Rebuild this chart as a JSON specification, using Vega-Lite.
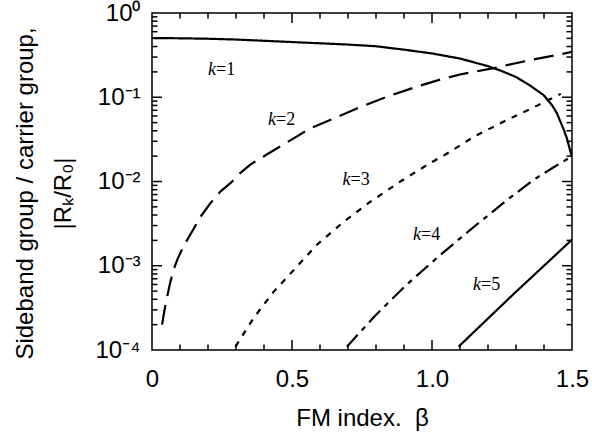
{
  "$schema": "https://vega.github.io/schema/vega-lite/v6.json",
  "width": 420,
  "height": 337,
  "autosize": {"type": "none"},
  "padding": {"left": 152, "top": 13, "right": 20, "bottom": 85},
  "background": "white",
  "config": {
    "view": {"stroke": "black", "strokeWidth": 1.5},
    "axis": {
      "domain": false, "ticks": false,
      "labelFont": "Liberation Sans", "labelFontSize": 24, "labelColor": "black",
      "titleFont": "Liberation Sans", "titleFontSize": 24, "titleFontWeight": "normal", "titleColor": "black",
      "grid": false, "labelOverlap": false, "labelFlush": false, "labelBound": false
    }
  },
  "datasets": {
    "curves": [
      {"k": "1", "beta": 0, "value": 0.505},
      {"k": "1", "beta": 0.1, "value": 0.501},
      {"k": "1", "beta": 0.2, "value": 0.495},
      {"k": "1", "beta": 0.3, "value": 0.484},
      {"k": "1", "beta": 0.4, "value": 0.468},
      {"k": "1", "beta": 0.5, "value": 0.452},
      {"k": "1", "beta": 0.6, "value": 0.437},
      {"k": "1", "beta": 0.7, "value": 0.422},
      {"k": "1", "beta": 0.8, "value": 0.403},
      {"k": "1", "beta": 0.9, "value": 0.367},
      {"k": "1", "beta": 1.0, "value": 0.331},
      {"k": "1", "beta": 1.1, "value": 0.288},
      {"k": "1", "beta": 1.2, "value": 0.234},
      {"k": "1", "beta": 1.25, "value": 0.204},
      {"k": "1", "beta": 1.3, "value": 0.174},
      {"k": "1", "beta": 1.35, "value": 0.138},
      {"k": "1", "beta": 1.4, "value": 0.105},
      {"k": "1", "beta": 1.43, "value": 0.0794},
      {"k": "1", "beta": 1.446, "value": 0.0646},
      {"k": "1", "beta": 1.46, "value": 0.0501},
      {"k": "1", "beta": 1.47, "value": 0.0417},
      {"k": "1", "beta": 1.482, "value": 0.0324},
      {"k": "1", "beta": 1.49, "value": 0.0257},
      {"k": "1", "beta": 1.5, "value": 0.0195},
      {"k": "2", "beta": 0.036, "value": 0.0002},
      {"k": "2", "beta": 0.045, "value": 0.000302},
      {"k": "2", "beta": 0.054, "value": 0.000427},
      {"k": "2", "beta": 0.065, "value": 0.000631},
      {"k": "2", "beta": 0.077, "value": 0.000891},
      {"k": "2", "beta": 0.09, "value": 0.001175},
      {"k": "2", "beta": 0.101, "value": 0.001413},
      {"k": "2", "beta": 0.119, "value": 0.001862},
      {"k": "2", "beta": 0.149, "value": 0.002754},
      {"k": "2", "beta": 0.173, "value": 0.003802},
      {"k": "2", "beta": 0.208, "value": 0.005495},
      {"k": "2", "beta": 0.244, "value": 0.007586},
      {"k": "2", "beta": 0.28, "value": 0.00955},
      {"k": "2", "beta": 0.315, "value": 0.012589},
      {"k": "2", "beta": 0.351, "value": 0.015849},
      {"k": "2", "beta": 0.417, "value": 0.021627},
      {"k": "2", "beta": 0.5, "value": 0.031623},
      {"k": "2", "beta": 0.565, "value": 0.042658},
      {"k": "2", "beta": 0.65, "value": 0.056234},
      {"k": "2", "beta": 0.756, "value": 0.079433},
      {"k": "2", "beta": 0.85, "value": 0.104713},
      {"k": "2", "beta": 0.95, "value": 0.134896},
      {"k": "2", "beta": 1.03, "value": 0.162181},
      {"k": "2", "beta": 1.1, "value": 0.186209},
      {"k": "2", "beta": 1.22, "value": 0.221309},
      {"k": "2", "beta": 1.27, "value": 0.241546},
      {"k": "2", "beta": 1.35, "value": 0.275423},
      {"k": "2", "beta": 1.458, "value": 0.323594},
      {"k": "2", "beta": 1.5, "value": 0.346737},
      {"k": "3", "beta": 0.298, "value": 0.0001096},
      {"k": "3", "beta": 0.363, "value": 0.0002399},
      {"k": "3", "beta": 0.434, "value": 0.0004898},
      {"k": "3", "beta": 0.512, "value": 0.0009333},
      {"k": "3", "beta": 0.589, "value": 0.0017783},
      {"k": "3", "beta": 0.684, "value": 0.0033113},
      {"k": "3", "beta": 0.78, "value": 0.0057544},
      {"k": "3", "beta": 0.887, "value": 0.01},
      {"k": "3", "beta": 0.994, "value": 0.016596},
      {"k": "3", "beta": 1.048, "value": 0.020893},
      {"k": "3", "beta": 1.149, "value": 0.033884},
      {"k": "3", "beta": 1.196, "value": 0.040738},
      {"k": "3", "beta": 1.28, "value": 0.056234},
      {"k": "3", "beta": 1.363, "value": 0.075858},
      {"k": "3", "beta": 1.46, "value": 0.109648},
      {"k": "4", "beta": 0.696, "value": 0.0001096},
      {"k": "4", "beta": 0.795, "value": 0.000251},
      {"k": "4", "beta": 0.911, "value": 0.000603},
      {"k": "4", "beta": 1.03, "value": 0.001349},
      {"k": "4", "beta": 1.149, "value": 0.002884},
      {"k": "4", "beta": 1.268, "value": 0.006026},
      {"k": "4", "beta": 1.363, "value": 0.010471},
      {"k": "4", "beta": 1.43, "value": 0.014454},
      {"k": "4", "beta": 1.5, "value": 0.019953},
      {"k": "5", "beta": 1.095, "value": 0.0001096},
      {"k": "5", "beta": 1.29, "value": 0.000457},
      {"k": "5", "beta": 1.5, "value": 0.002042}
    ],
    "labels": [
      {"beta": 0.229, "value": 0.2107, "sym": "k", "rest": "=1"},
      {"beta": 0.443, "value": 0.0537, "sym": "k", "rest": "=2"},
      {"beta": 0.709, "value": 0.01047, "sym": "k", "rest": "=3"},
      {"beta": 0.961, "value": 0.002317, "sym": "k", "rest": "=4"},
      {"beta": 1.175, "value": 0.000591, "sym": "k", "rest": "=5"}
    ],
    "xticks": [
      {"beta": 0.1, "value": 0.0001, "kind": "minor"}, {"beta": 0.2, "value": 0.0001, "kind": "minor"},
      {"beta": 0.3, "value": 0.0001, "kind": "minor"}, {"beta": 0.4, "value": 0.0001, "kind": "minor"},
      {"beta": 0.5, "value": 0.0001, "kind": "major"}, {"beta": 0.6, "value": 0.0001, "kind": "minor"},
      {"beta": 0.7, "value": 0.0001, "kind": "minor"}, {"beta": 0.8, "value": 0.0001, "kind": "minor"},
      {"beta": 0.9, "value": 0.0001, "kind": "minor"}, {"beta": 1.0, "value": 0.0001, "kind": "major"},
      {"beta": 1.1, "value": 0.0001, "kind": "minor"}, {"beta": 1.2, "value": 0.0001, "kind": "minor"},
      {"beta": 1.3, "value": 0.0001, "kind": "minor"}, {"beta": 1.4, "value": 0.0001, "kind": "minor"},
      {"beta": 0.1, "value": 1, "kind": "minor"}, {"beta": 0.2, "value": 1, "kind": "minor"},
      {"beta": 0.3, "value": 1, "kind": "minor"}, {"beta": 0.4, "value": 1, "kind": "minor"},
      {"beta": 0.5, "value": 1, "kind": "major"}, {"beta": 0.6, "value": 1, "kind": "minor"},
      {"beta": 0.7, "value": 1, "kind": "minor"}, {"beta": 0.8, "value": 1, "kind": "minor"},
      {"beta": 0.9, "value": 1, "kind": "minor"}, {"beta": 1.0, "value": 1, "kind": "major"},
      {"beta": 1.1, "value": 1, "kind": "minor"}, {"beta": 1.2, "value": 1, "kind": "minor"},
      {"beta": 1.3, "value": 1, "kind": "minor"}, {"beta": 1.4, "value": 1, "kind": "minor"}
    ],
    "yticks": [
      {"beta": 0, "value": 0.0002, "kind": "minor"}, {"beta": 0, "value": 0.0003, "kind": "minor"},
      {"beta": 0, "value": 0.0004, "kind": "minor"}, {"beta": 0, "value": 0.0005, "kind": "minor"},
      {"beta": 0, "value": 0.0006, "kind": "minor"}, {"beta": 0, "value": 0.0007, "kind": "minor"},
      {"beta": 0, "value": 0.0008, "kind": "minor"}, {"beta": 0, "value": 0.0009, "kind": "minor"},
      {"beta": 0, "value": 0.001, "kind": "major"},
      {"beta": 0, "value": 0.002, "kind": "minor"}, {"beta": 0, "value": 0.003, "kind": "minor"},
      {"beta": 0, "value": 0.004, "kind": "minor"}, {"beta": 0, "value": 0.005, "kind": "minor"},
      {"beta": 0, "value": 0.006, "kind": "minor"}, {"beta": 0, "value": 0.007, "kind": "minor"},
      {"beta": 0, "value": 0.008, "kind": "minor"}, {"beta": 0, "value": 0.009, "kind": "minor"},
      {"beta": 0, "value": 0.01, "kind": "major"},
      {"beta": 0, "value": 0.02, "kind": "minor"}, {"beta": 0, "value": 0.03, "kind": "minor"},
      {"beta": 0, "value": 0.04, "kind": "minor"}, {"beta": 0, "value": 0.05, "kind": "minor"},
      {"beta": 0, "value": 0.06, "kind": "minor"}, {"beta": 0, "value": 0.07, "kind": "minor"},
      {"beta": 0, "value": 0.08, "kind": "minor"}, {"beta": 0, "value": 0.09, "kind": "minor"},
      {"beta": 0, "value": 0.1, "kind": "major"},
      {"beta": 0, "value": 0.2, "kind": "minor"}, {"beta": 0, "value": 0.3, "kind": "minor"},
      {"beta": 0, "value": 0.4, "kind": "minor"}, {"beta": 0, "value": 0.5, "kind": "minor"},
      {"beta": 0, "value": 0.6, "kind": "minor"}, {"beta": 0, "value": 0.7, "kind": "minor"},
      {"beta": 0, "value": 0.8, "kind": "minor"}, {"beta": 0, "value": 0.9, "kind": "minor"},
      {"beta": 1.5, "value": 0.0002, "kind": "minor"}, {"beta": 1.5, "value": 0.0003, "kind": "minor"},
      {"beta": 1.5, "value": 0.0004, "kind": "minor"}, {"beta": 1.5, "value": 0.0005, "kind": "minor"},
      {"beta": 1.5, "value": 0.0006, "kind": "minor"}, {"beta": 1.5, "value": 0.0007, "kind": "minor"},
      {"beta": 1.5, "value": 0.0008, "kind": "minor"}, {"beta": 1.5, "value": 0.0009, "kind": "minor"},
      {"beta": 1.5, "value": 0.001, "kind": "major"},
      {"beta": 1.5, "value": 0.002, "kind": "minor"}, {"beta": 1.5, "value": 0.003, "kind": "minor"},
      {"beta": 1.5, "value": 0.004, "kind": "minor"}, {"beta": 1.5, "value": 0.005, "kind": "minor"},
      {"beta": 1.5, "value": 0.006, "kind": "minor"}, {"beta": 1.5, "value": 0.007, "kind": "minor"},
      {"beta": 1.5, "value": 0.008, "kind": "minor"}, {"beta": 1.5, "value": 0.009, "kind": "minor"},
      {"beta": 1.5, "value": 0.01, "kind": "major"},
      {"beta": 1.5, "value": 0.02, "kind": "minor"}, {"beta": 1.5, "value": 0.03, "kind": "minor"},
      {"beta": 1.5, "value": 0.04, "kind": "minor"}, {"beta": 1.5, "value": 0.05, "kind": "minor"},
      {"beta": 1.5, "value": 0.06, "kind": "minor"}, {"beta": 1.5, "value": 0.07, "kind": "minor"},
      {"beta": 1.5, "value": 0.08, "kind": "minor"}, {"beta": 1.5, "value": 0.09, "kind": "minor"},
      {"beta": 1.5, "value": 0.1, "kind": "major"},
      {"beta": 1.5, "value": 0.2, "kind": "minor"}, {"beta": 1.5, "value": 0.3, "kind": "minor"},
      {"beta": 1.5, "value": 0.4, "kind": "minor"}, {"beta": 1.5, "value": 0.5, "kind": "minor"},
      {"beta": 1.5, "value": 0.6, "kind": "minor"}, {"beta": 1.5, "value": 0.7, "kind": "minor"},
      {"beta": 1.5, "value": 0.8, "kind": "minor"}, {"beta": 1.5, "value": 0.9, "kind": "minor"}
    ]
  },
  "layer": [
    {
      "data": {"name": "curves"},
      "mark": {"type": "line", "color": "black", "strokeWidth": 2.2, "clip": true},
      "encoding": {
        "x": {
          "field": "beta", "type": "quantitative",
          "scale": {"domain": [0, 1.5], "nice": false, "zero": false},
          "axis": {
            "orient": "bottom",
            "values": [0, 0.5, 1.0, 1.5],
            "labelExpr": "datum.value == 0 ? '0' : format(datum.value, '.1f')",
            "labelPadding": 17,
            "title": "FM index.\u00a0 β",
            "titleY": 75,
            "titleBaseline": "alphabetic"
          }
        },
        "y": {
          "field": "value", "type": "quantitative",
          "scale": {"type": "log", "domain": [0.0001, 1], "nice": false},
          "axis": {
            "orient": "left",
            "values": [0.0001, 0.001, 0.01, 0.1, 1],
            "labelExpr": "datum.value == 1 ? '10⁰' : datum.value == 0.1 ? '10⁻¹' : datum.value == 0.01 ? '10⁻²' : datum.value == 0.001 ? '10⁻³' : '10⁻⁴'",
            "labelPadding": 12,
            "title": ["Sideband group / carrier group,", "|Rₖ/R₀|"],
            "titleAngle": -90,
            "titleX": -139,
            "titleY": 180,
            "titleBaseline": "top",
            "titleAlign": "center",
            "titleLineHeight": 38
          }
        },
        "strokeDash": {
          "field": "k", "type": "nominal",
          "scale": {"domain": ["1", "2", "3", "4", "5"], "range": [[1, 0], [20, 9], [6, 7], [16, 6, 5, 6], [1, 0]]},
          "legend": null
        }
      }
    },
    {
      "data": {"name": "xticks"},
      "mark": {"type": "tick", "orient": "vertical", "color": "black", "thickness": 1.5, "clip": true, "opacity": 1},
      "encoding": {
        "x": {"field": "beta", "type": "quantitative"},
        "y": {"field": "value", "type": "quantitative"},
        "size": {"field": "kind", "type": "nominal", "scale": {"domain": ["major", "minor"], "range": [20, 11]}, "legend": null}
      }
    },
    {
      "data": {"name": "yticks"},
      "mark": {"type": "tick", "orient": "horizontal", "color": "black", "thickness": 1.5, "clip": true, "opacity": 1},
      "encoding": {
        "x": {"field": "beta", "type": "quantitative"},
        "y": {"field": "value", "type": "quantitative"},
        "size": {"field": "kind", "type": "nominal", "scale": {"domain": ["major", "minor"], "range": [25, 16]}, "legend": null}
      }
    },
    {
      "data": {"name": "labels"},
      "mark": {"type": "text", "align": "right", "baseline": "middle", "font": "Liberation Serif", "fontStyle": "italic", "fontSize": 18, "color": "black"},
      "encoding": {
        "x": {"field": "beta", "type": "quantitative"},
        "y": {"field": "value", "type": "quantitative"},
        "text": {"field": "sym"}
      }
    },
    {
      "data": {"name": "labels"},
      "mark": {"type": "text", "align": "left", "baseline": "middle", "font": "Liberation Serif", "fontSize": 18, "color": "black"},
      "encoding": {
        "x": {"field": "beta", "type": "quantitative"},
        "y": {"field": "value", "type": "quantitative"},
        "text": {"field": "rest"}
      }
    }
  ]
}
